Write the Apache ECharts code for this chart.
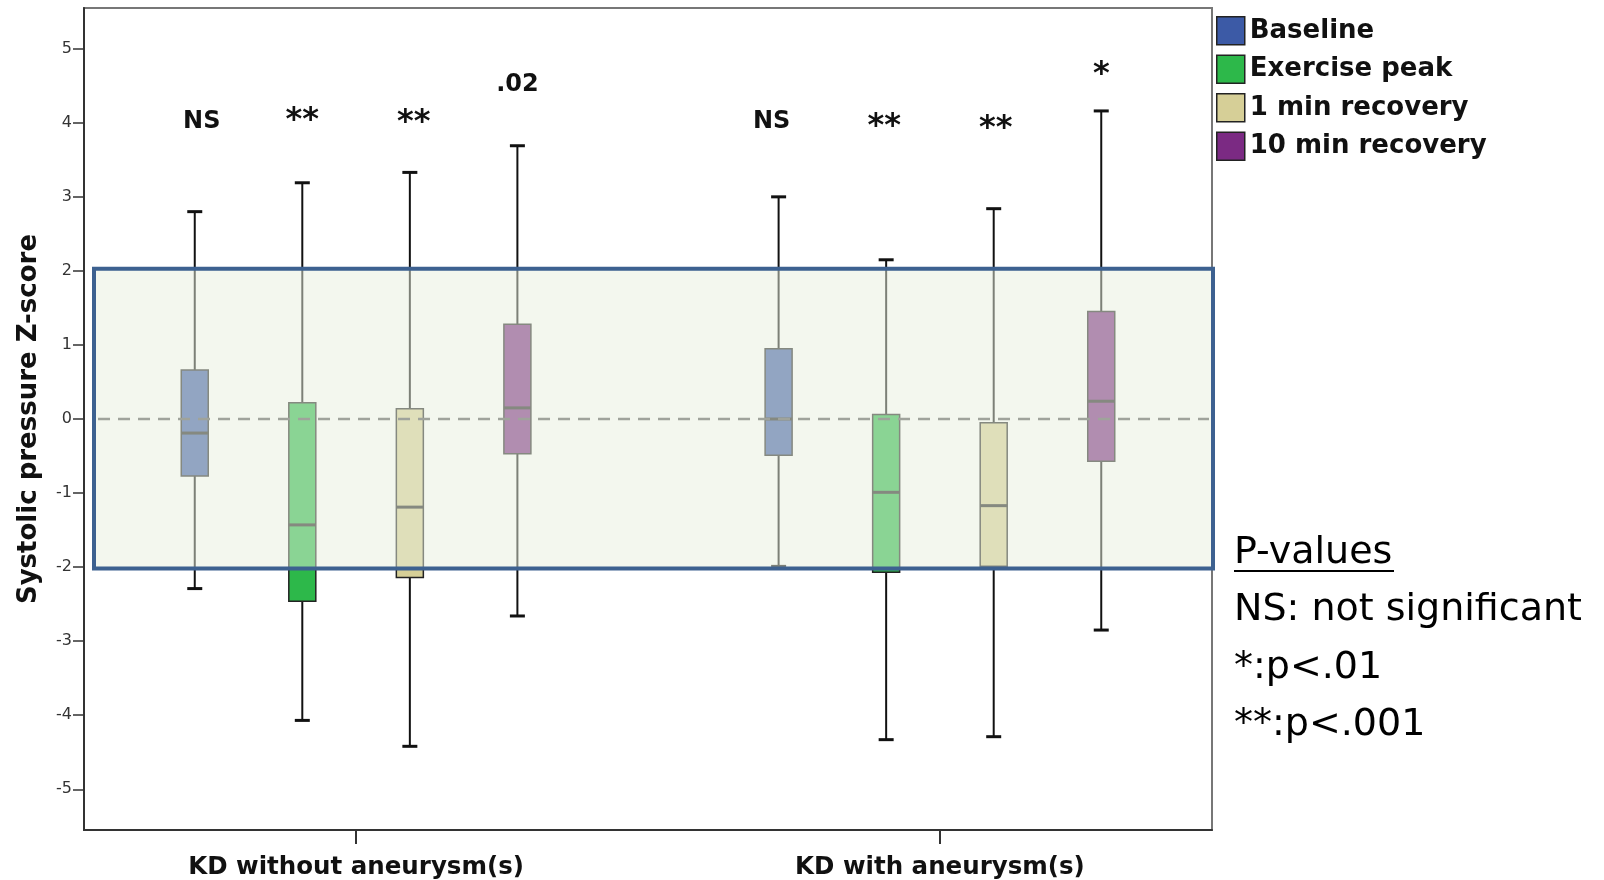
<!DOCTYPE html>
<html><head><meta charset="utf-8">
<script src="https://cdn.jsdelivr.net/npm/echarts@6/dist/echarts.min.js"></script>
<style>html,body{margin:0;padding:0;background:#fff}#c{width:1604px;height:880px}</style>
</head><body><div id="c"></div>
<script>
// ---------------- data ----------------
const categories = ['KD without aneurysm(s)', 'KD with aneurysm(s)'];
const groupPositions = [1, 2];
const seriesNames = ['Baseline', 'Exercise peak', '1 min recovery', '10 min recovery'];
const seriesColors = ['#3c5aa6', '#2db84a', '#d6cf97', '#7b2a83'];
// [min, Q1, median, Q3, max] for each group
const baseline     = [[-2.29, -0.77, -0.19, 0.66, 2.80], [-1.99, -0.49, 0.00, 0.95, 3.00]];
const exercisePeak = [[-4.07, -2.46, -1.43, 0.22, 3.19], [-4.33, -2.07, -0.99, 0.06, 2.15]];
const recovery1    = [[-4.42, -2.14, -1.19, 0.14, 3.33], [-4.29, -1.99, -1.17, -0.05, 2.84]];
const recovery10   = [[-2.66, -0.47, 0.15, 1.28, 3.69], [-2.85, -0.57, 0.24, 1.45, 4.16]];
const yTicks = [-5, -4, -3, -2, -1, 0, 1, 2, 3, 4, 5];
const normalRange = [-2.02, 2.03];
const zeroLine = 0;
const pAnnotations = [['NS', '**', '**', '.02'], ['NS', '**', '**', '*']];
const pAnnotationY = [[4.02, 4.10, 4.07, 4.52], [4.01, 4.02, 3.99, 4.72]];
const pLegendTitle = 'P-values';
const pLegendLines = ['NS: not significant', '*:p<.01', '**:p<.001'];

// ---------------- layout / style ----------------
const BOX_SPACING = 0.1842;   // distance between boxes of a cluster, in x-axis units
const X_MIN = 0.534, X_MAX = 2.466;
const FONT = '"DejaVu Sans", sans-serif';
const ANN_DX = [[7, 0, 4, 0], [-7, -2, 2, 0]];   // small horizontal nudges of the annotations (px)
const allStats = [baseline, exercisePeak, recovery1, recovery10];

function boxRender(si) {
  return function (params, api) {
    const x = api.value(0) + (si - 1.5) * BOX_SPACING;
    const pMin = api.coord([x, api.value(1)]);
    const pQ1 = api.coord([x, api.value(2)]);
    const pMed = api.coord([x, api.value(3)]);
    const pQ3 = api.coord([x, api.value(4)]);
    const pMax = api.coord([x, api.value(5)]);
    const cx = pMin[0];
    const hw = 13.5, cw = 7.5;
    const color = api.visual('color');
    return { type: 'group', children: [
      { type: 'line', shape: { x1: cx, y1: pMax[1], x2: cx, y2: pQ3[1] }, style: { stroke: '#111', lineWidth: 2 } },
      { type: 'line', shape: { x1: cx, y1: pQ1[1], x2: cx, y2: pMin[1] }, style: { stroke: '#111', lineWidth: 2 } },
      { type: 'line', shape: { x1: cx - cw, y1: pMax[1], x2: cx + cw, y2: pMax[1] }, style: { stroke: '#111', lineWidth: 3 } },
      { type: 'line', shape: { x1: cx - cw, y1: pMin[1], x2: cx + cw, y2: pMin[1] }, style: { stroke: '#111', lineWidth: 3 } },
      { type: 'rect', shape: { x: cx - hw, y: pQ3[1], width: 2 * hw, height: pQ1[1] - pQ3[1] }, style: { fill: color, stroke: '#222', lineWidth: 1.5 } },
      { type: 'line', shape: { x1: cx - hw, y1: pMed[1], x2: cx + hw, y2: pMed[1] }, style: { stroke: '#222', lineWidth: 3 } }
    ] };
  };
}

const boxSeries = seriesNames.map((name, si) => ({
  name: name,
  type: 'custom',
  z: 2,
  itemStyle: { color: seriesColors[si] },
  encode: { x: 0, y: [1, 2, 3, 4, 5] },
  data: groupPositions.map((g, gi) => [g].concat(allStats[si][gi])),
  renderItem: boxRender(si),
  silent: true
}));

const bandSeries = {
  type: 'custom',
  z: 5,
  silent: true,
  encode: { x: 0, y: [1, 2, 3] },
  data: [[1.5, normalRange[0], normalRange[1], zeroLine]],
  renderItem: function (params, api) {
    const cs = params.coordSys;
    const left = cs.x + 10, right = cs.x + cs.width + 1;
    const yBot = api.coord([1.5, api.value(1)])[1];
    const yTop = api.coord([1.5, api.value(2)])[1];
    const y0 = api.coord([1.5, api.value(3)])[1];
    return { type: 'group', children: [
      { type: 'rect', shape: { x: left, y: yTop, width: right - left, height: yBot - yTop },
        style: { fill: 'rgba(231,239,221,0.5)', stroke: '#3d6190', lineWidth: 4 } },
      { type: 'line', shape: { x1: left + 4, y1: y0, x2: right - 4, y2: y0 },
        style: { stroke: '#9fa39b', lineWidth: 2.5, lineDash: [12, 8] } }
    ] };
  }
};

const annData = [];
groupPositions.forEach((g, gi) => {
  pAnnotations[gi].forEach((t, si) => annData.push([g, pAnnotationY[gi][si], si, gi]));
});
const annSeries = {
  type: 'custom',
  z: 6,
  silent: true,
  encode: { x: 0, y: 1 },
  data: annData,
  renderItem: function (params, api) {
    const si = api.value(2), gi = api.value(3);
    const text = pAnnotations[gi][si];
    const p = api.coord([api.value(0) + (si - 1.5) * BOX_SPACING, api.value(1)]);
    const isStar = text.indexOf('*') >= 0;
    return { type: 'text', x: p[0] + ANN_DX[gi][si], y: p[1] + (isStar ? 5 : 0),
      style: { text: text, fill: '#111', font: 'bold ' + (isStar ? 32 : 24) + 'px ' + FONT,
        align: 'center', verticalAlign: 'middle', textAlign: 'center', textVerticalAlign: 'middle' } };
  }
};

const chart = echarts.init(document.getElementById('c'), null, { renderer: 'canvas' });
chart.setOption({
  animation: false,
  backgroundColor: '#fff',
  grid: { left: 84, right: 392, top: 8, bottom: 49, show: true, borderColor: '#777', borderWidth: 2 },
  xAxis: {
    type: 'value', min: X_MIN, max: X_MAX,
    axisLine: { show: true, onZero: false, lineStyle: { color: '#333', width: 2 } },
    axisTick: { show: true, customValues: groupPositions, length: 14, lineStyle: { color: '#333', width: 2 } },
    axisLabel: { customValues: groupPositions, margin: 25,
      formatter: v => categories[groupPositions.indexOf(v)] || '',
      fontFamily: FONT, fontWeight: 'bold', fontSize: 24.5, color: '#111' },
    splitLine: { show: false }
  },
  yAxis: {
    type: 'value', min: -5.55, max: 5.55,
    name: 'Systolic pressure Z-score', nameLocation: 'middle', nameGap: 42, nameRotate: 90,
    nameTextStyle: { fontFamily: FONT, fontWeight: 'bold', fontSize: 26, color: '#111' },
    axisLine: { show: true, onZero: false, lineStyle: { color: '#333', width: 2 } },
    axisTick: { show: true, customValues: yTicks, length: 11, lineStyle: { color: '#333', width: 1.5 } },
    axisLabel: { customValues: yTicks, margin: 12, fontFamily: FONT, fontSize: 16, color: '#333' },
    splitLine: { show: false }
  },
  legend: {
    orient: 'vertical', left: 1216, top: 16, padding: 0,
    itemWidth: 28, itemHeight: 28, itemGap: 9, selectedMode: false,
    textStyle: { fontFamily: FONT, fontWeight: 'bold', fontSize: 26, color: '#111', lineHeight: 28 },
    data: seriesNames.map((n, i) => ({ name: n, icon: 'rect',
      itemStyle: { color: seriesColors[i], borderColor: '#222', borderWidth: 1.5 } }))
  },
  graphic: [
    { type: 'text', x: 1234, y: 553, style: { text: pLegendTitle, font: '38px ' + FONT, fill: '#000', verticalAlign: 'middle' } },
    { type: 'line', shape: { x1: 1234, y1: 571, x2: 1394, y2: 571 }, style: { stroke: '#000', lineWidth: 2 } },
    { type: 'text', x: 1234, y: 610, style: { text: pLegendLines[0], font: '38px ' + FONT, fill: '#000', verticalAlign: 'middle' } },
    { type: 'text', x: 1234, y: 668, style: { text: pLegendLines[1], font: '38px ' + FONT, fill: '#000', verticalAlign: 'middle' } },
    { type: 'text', x: 1234, y: 725, style: { text: pLegendLines[2], font: '38px ' + FONT, fill: '#000', verticalAlign: 'middle' } }
  ],
  series: boxSeries.concat([bandSeries, annSeries])
});
</script></body></html>
